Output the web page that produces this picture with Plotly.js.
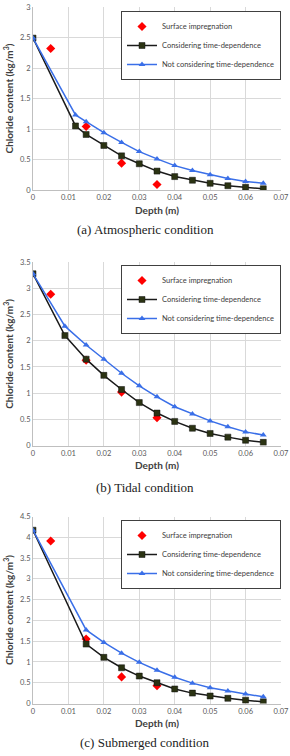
<!DOCTYPE html>
<html>
<head>
<meta charset="utf-8">
<script src="https://cdn.plot.ly/plotly-3.0.1.min.js"></script>
<style>html,body{margin:0;padding:0;background:#fff;}#chart{width:290px;height:756px;}</style>
</head>
<body>
<div id="chart"></div>
<script>
// ---- Data ----
const surfDepth = [0.005, 0.015, 0.025, 0.035];

const atmDepth = [0, 0.012, 0.015, 0.02, 0.025, 0.03, 0.035, 0.04, 0.045, 0.05, 0.055, 0.06, 0.065];
const atmConsider = [2.49, 1.05, 0.91, 0.73, 0.56, 0.43, 0.31, 0.22, 0.16, 0.11, 0.07, 0.045, 0.02];
const atmNot = [2.49, 1.23, 1.12, 0.94, 0.78, 0.63, 0.51, 0.40, 0.32, 0.25, 0.19, 0.14, 0.11];
const atmSurf = [2.32, 1.04, 0.44, 0.09];

const tidalDepth = [0, 0.009, 0.015, 0.02, 0.025, 0.03, 0.035, 0.04, 0.045, 0.05, 0.055, 0.06, 0.065];
const tidalConsider = [3.28, 2.10, 1.65, 1.34, 1.07, 0.82, 0.62, 0.46, 0.33, 0.23, 0.16, 0.10, 0.06];
const tidalNot = [3.28, 2.28, 1.92, 1.65, 1.38, 1.14, 0.93, 0.74, 0.60, 0.47, 0.36, 0.26, 0.20];
const tidalSurf = [2.89, 1.63, 1.02, 0.53];

const subDepth = [0, 0.015, 0.02, 0.025, 0.03, 0.035, 0.04, 0.045, 0.05, 0.055, 0.06, 0.065];
const subConsider = [4.17, 1.43, 1.11, 0.86, 0.66, 0.50, 0.35, 0.25, 0.18, 0.125, 0.08, 0.04];
const subNot = [4.17, 1.77, 1.47, 1.21, 0.99, 0.80, 0.63, 0.49, 0.38, 0.30, 0.23, 0.16];
const subSurf = [3.91, 1.55, 0.64, 0.43];

const seriesNames = ['Surface impregnation', 'Considering time-dependence', 'Not considering time-dependence'];
const captions = ['(a) Atmospheric condition', '(b) Tidal condition', '(c) Submerged condition'];
const xTitle = 'Depth (m)';
const yTitle = 'Chloride content (kg/m<sup>3</sup>)';
const yMax = [3, 3.5, 4.5];

// ---- Styles ----
const FONT = 'Lato, "Open Sans", "Liberation Sans", sans-serif';
const RED = '#ff0000', BLACK = '#1a1a1a', SQ = '#2b3313', BLUE = '#3a6fe8';

const panels = [
  {d: atmDepth, c: atmConsider, n: atmNot, s: atmSurf},
  {d: tidalDepth, c: tidalConsider, n: tidalNot, s: tidalSurf},
  {d: subDepth, c: subConsider, n: subNot, s: subSurf}
];

const H = 756, W = 290;
const yDom = [[190, 7], [445.5, 262.3], [703.5, 516.5]];
const legTop = [11, 265, 520];
const capY = [230, 487, 742];

const traces = [];
const layout = {
  width: W, height: H,
  margin: {l: 0, r: 0, t: 0, b: 0},
  paper_bgcolor: '#fff', plot_bgcolor: '#fff',
  font: {family: FONT, color: '#404040', size: 8},
  annotations: []
};

panels.forEach((p, i) => {
  const k = i === 0 ? '' : String(i + 1);
  const xa = 'x' + k, ya = 'y' + k;
  const lg = i === 0 ? 'legend' : 'legend' + (i + 1);
  traces.push({
    x: surfDepth, y: p.s, xaxis: xa, yaxis: ya, legend: lg,
    name: seriesNames[0], type: 'scatter', mode: 'markers',
    marker: {symbol: 'diamond', size: 7, color: RED}
  });
  traces.push({
    x: p.d, y: p.c, xaxis: xa, yaxis: ya, legend: lg,
    name: seriesNames[1], type: 'scatter', mode: 'lines+markers',
    line: {color: BLACK, width: 1.5},
    marker: {symbol: 'square', size: 6, color: SQ, line: {color: '#111', width: 0.5}}
  });
  traces.push({
    x: p.d, y: p.n, xaxis: xa, yaxis: ya, legend: lg,
    name: seriesNames[2], type: 'scatter', mode: 'lines+markers',
    line: {color: BLUE, width: 1.5},
    marker: {symbol: 'triangle-up', size: 6, color: BLUE}
  });

  layout['xaxis' + k] = {
    domain: [33 / W, 281 / W], anchor: ya,
    range: [0, 0.07], dtick: 0.01, tick0: 0,
    showgrid: true, gridcolor: '#d9d9d9', gridwidth: 1,
    zeroline: false, showline: true, linecolor: '#bfbfbf', mirror: false,
    ticks: '', tickfont: {family: FONT, size: 7.5, color: '#595959'},
    title: {text: xTitle, font: {family: FONT, size: 10, color: '#404040', weight: 'bold'}, standoff: 5},
    automargin: false, fixedrange: true
  };
  layout['yaxis' + k] = {
    domain: [1 - yDom[i][0] / H, 1 - yDom[i][1] / H], anchor: xa,
    range: [0, yMax[i]], dtick: 0.5, tick0: 0,
    showgrid: true, gridcolor: '#d9d9d9', gridwidth: 1,
    zeroline: false, showline: true, linecolor: '#bfbfbf',
    ticks: '', tickfont: {family: FONT, size: 7.5, color: '#595959'},
    title: {text: yTitle, font: {family: FONT, size: 10, color: '#404040', weight: 'bold'}, standoff: 4},
    automargin: false, fixedrange: true
  };
  layout[lg] = {
    x: 121 / W, y: 1 - legTop[i] / H, xanchor: 'left', yanchor: 'top',
    bgcolor: '#fff', bordercolor: '#404040', borderwidth: 1,
    font: {family: FONT, size: 7.5, color: '#404040'},
    tracegroupgap: 0, itemwidth: 30
  };
  layout.annotations.push({
    xref: 'paper', yref: 'paper', x: 145 / W, y: 1 - capY[i] / H,
    xanchor: 'center', yanchor: 'middle', showarrow: false,
    text: captions[i],
    font: {family: '"Liberation Serif", "Times New Roman", serif', size: 13, color: '#222'}
  });
});

Plotly.newPlot('chart', traces, layout, {displayModeBar: false, staticPlot: true});
</script>
</body>
</html>
